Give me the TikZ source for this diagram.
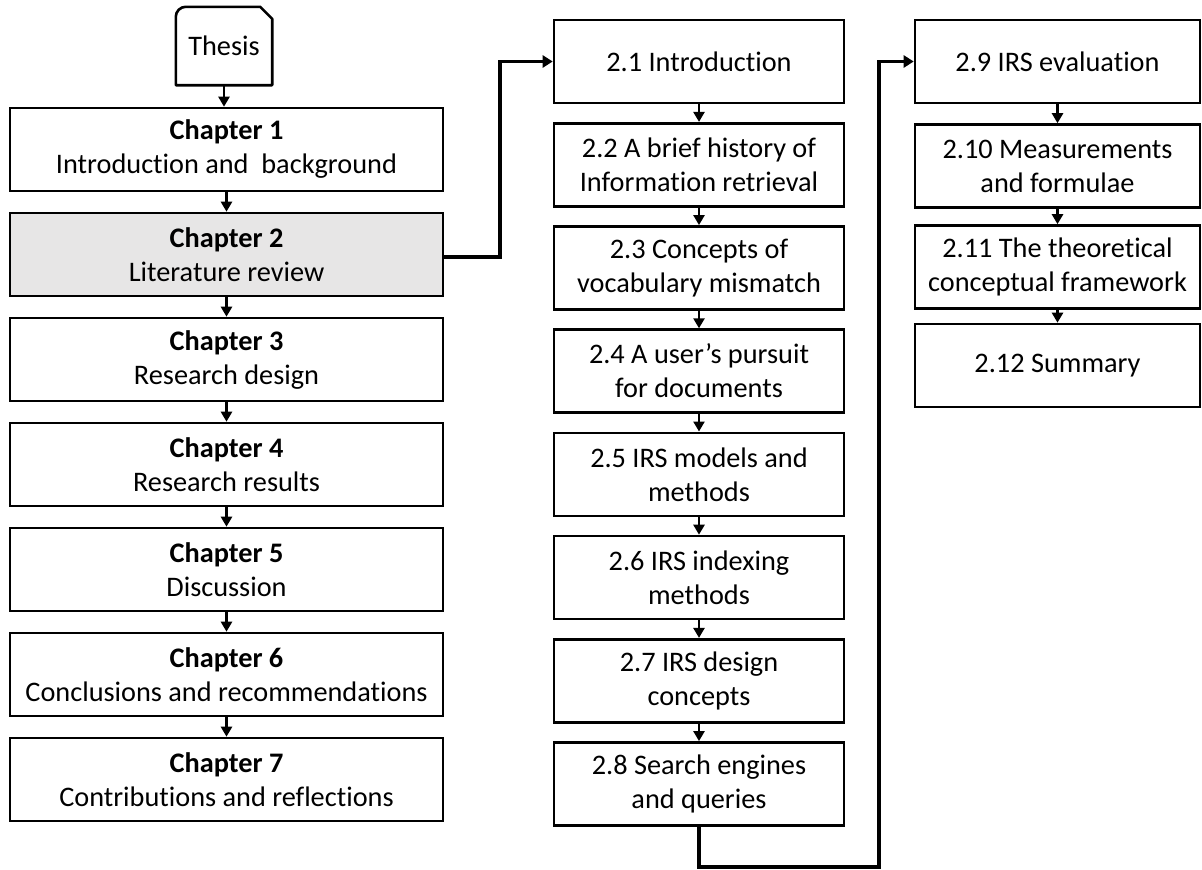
\documentclass[tikz,border=0pt]{standalone}
\usepackage{fontspec}
\setmainfont{Carlito}[Ligatures=NoCommon]
\usetikzlibrary{arrows.meta}
\definecolor{shade}{RGB}{231,230,230}
\begin{document}
\begin{tikzpicture}[x=1pt,y=-1pt,
  every node/.style={font=\fontsize{28.3}{34}\selectfont, align=center, inner sep=0pt},
  chap/.style={draw, line width=2.6pt, minimum width=433pt, minimum height=83pt},
  sec/.style={draw, line width=2.6pt, minimum width=290pt, minimum height=83pt},
  secr/.style={draw, line width=2.6pt, minimum width=285pt, minimum height=83pt},
  flow/.style={line width=2.4pt, -{Triangle[length=10pt,width=11pt]}},
  jump/.style={line width=3.8pt, -{Triangle[length=10pt,width=12pt]}}]
\useasboundingbox (0,0) rectangle (1202,870);

% Thesis tab with a rounded and a clipped top corner
\node (thesis) at (224,46) [minimum width=96pt, minimum height=78pt] {Thesis};
\draw[line width=2.6pt, line join=round]
  (thesis.south west) -- ([yshift=-10pt]thesis.north west)
  arc[start angle=180, end angle=90, radius=10pt]
  -- ([xshift=-12pt]thesis.north east) -- ([yshift=-12pt]thesis.north east)
  -- (thesis.south east) -- cycle;

% Chapters
\node[chap] (ch1) at (226.5,149.5) {\textbf{Chapter 1}\\Introduction and\ \ background};
\node[chap, fill=shade] (ch2) at (226.5,254.5) {\textbf{Chapter 2}\\Literature review};
\node[chap] (ch3) at (226.5,359.5) {\textbf{Chapter 3}\\Research design};
\node[chap] (ch4) at (226.5,464.5) {\textbf{Chapter 4}\\Research results};
\node[chap] (ch5) at (226.5,569.5) {\textbf{Chapter 5}\\Discussion};
\node[chap] (ch6) at (226.5,674.5) {\textbf{Chapter 6}\\Conclusions and recommendations};
\node[chap] (ch7) at (226.5,779.5) {\textbf{Chapter 7}\\Contributions and reflections};

% Sections of chapter 2, first column
\node[sec] (s1) at (699,61.5) {2.1 Introduction};
\node[sec] (s2) at (699,164.7) {2.2 A brief history of\\Information retrieval};
\node[sec] (s3) at (699,267.9) {2.3 Concepts of\\vocabulary mismatch};
\node[sec] (s4) at (699,371.1) {2.4 A user’s pursuit\\for documents};
\node[sec] (s5) at (699,474.3) {2.5 IRS models and\\methods};
\node[sec] (s6) at (699,577.5) {2.6 IRS indexing\\methods};
\node[sec] (s7) at (699,680.7) {2.7 IRS design\\concepts};
\node[sec] (s8) at (699,783.9) {2.8 Search engines\\and queries};

% Sections of chapter 2, second column
\node[secr] (s9) at (1057.5,61.5) {2.9 IRS evaluation};
\node[secr] (s10) at (1057.5,166) {2.10 Measurements\\and formulae};
\node[secr] (s11) at (1057.5,267) {2.11 The theoretical\\conceptual framework};
\node[secr] (s12) at (1057.5,365.5) {2.12 Summary};

% Flow arrows
\draw[flow] (thesis.south) -- (thesis.south |- ch1.north);
\foreach \a/\b in {ch1/ch2,ch2/ch3,ch3/ch4,ch4/ch5,ch5/ch6,ch6/ch7,
                   s1/s2,s2/s3,s3/s4,s4/s5,s5/s6,s6/s7,s7/s8,
                   s9/s10,s10/s11,s11/s12}
  \draw[flow] (\a.south) -- (\b.north);

% Links between columns
\coordinate (bendA) at (500,257);
\draw[jump, line join=miter] (ch2.east |- bendA) -- (bendA) |- (s1.west);
\coordinate (bendB) at (879,867);
\draw[jump, line join=miter] (s8.south) |- (bendB) |- (s9.west);
\end{tikzpicture}
\end{document}
